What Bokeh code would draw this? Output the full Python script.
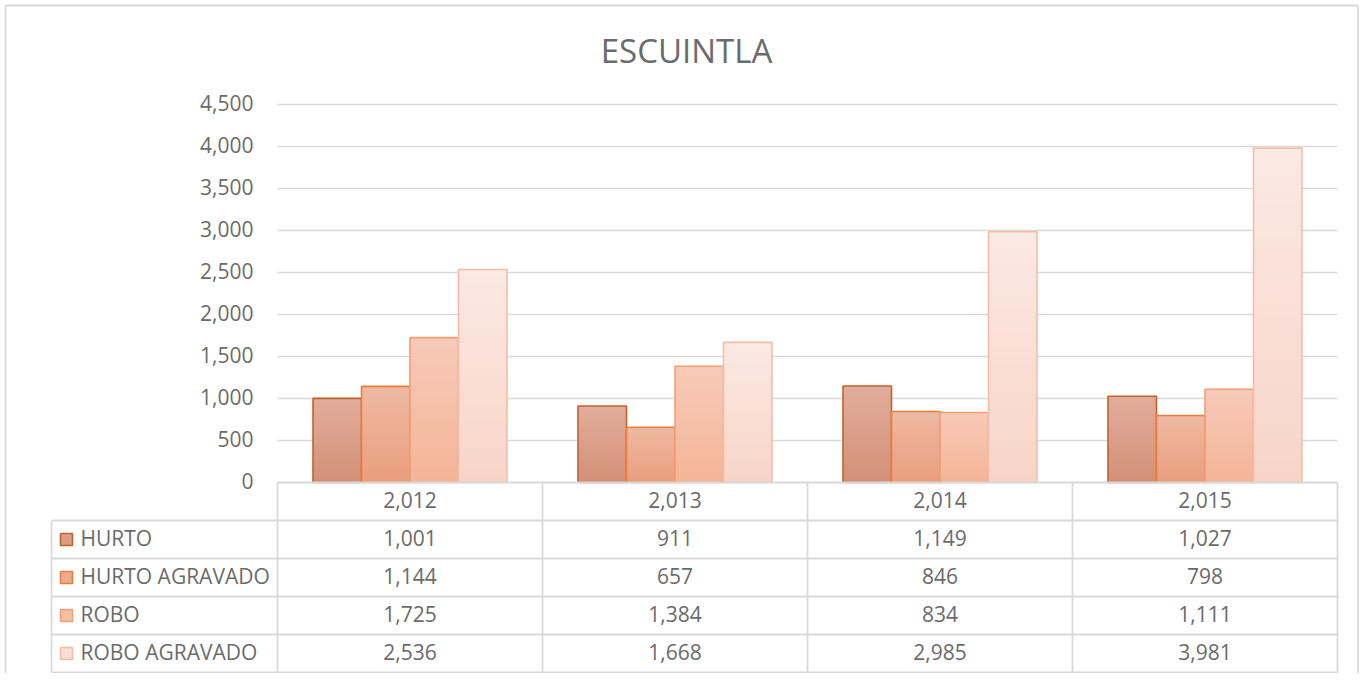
from bokeh.plotting import figure
from bokeh.models import Range1d, ColumnDataSource
from bokeh.core.properties import value
from bokeh.embed import file_html
from bokeh.resources import INLINE

# ---------------- data ----------------
TITLE = "ESCUINTLA"
YEARS = [2012, 2013, 2014, 2015]
SERIES = ["HURTO", "HURTO AGRAVADO", "ROBO", "ROBO AGRAVADO"]
HURTO = [1001, 911, 1149, 1027]
HURTO_AGRAVADO = [1144, 657, 846, 798]
ROBO = [1725, 1384, 834, 1111]
ROBO_AGRAVADO = [2536, 1668, 2985, 3981]
Y_TICKS = [0, 500, 1000, 1500, 2000, 2500, 3000, 3500, 4000, 4500]
VALUES = [HURTO, HURTO_AGRAVADO, ROBO, ROBO_AGRAVADO]

# ---------------- style ----------------
TOP_COL = ["#e1ae9c", "#eeb9a2", "#f7cab8", "#fbe9e3"]
BOT_COL = ["#d38f78", "#e99e7e", "#f4b497", "#f8d4c8"]
EDGE_COL = ["#c4622b", "#ec7e3a", "#f09f76", "#f3bea8"]
TEXT_COL = "#6b6b6b"
LINE_COL = "#d9d9d9"
FONT = "Open Sans"
FS = "21px"

# ---------------- layout (figure px) ----------------
OFF = 0
W, H = 1359, 673
PL, PR = 277, 1337          # plot area left/right
Y0, YTOP = 482, 104         # pixel rows of 0 and of YMAX
YMAX = Y_TICKS[-1]
TL = 51                     # table left
ROW = 38
TXT_DY = -1.5               # small vertical nudge for text centring
n = len(YEARS)

ux = n / (PR - PL)
uy = YMAX / (Y0 - YTOP)
xr = Range1d((OFF - PL) * ux, (OFF + W - PL) * ux)
yr = Range1d((Y0 - (OFF + H)) * uy, (Y0 - OFF) * uy)

p = figure(width=W, height=H, x_range=xr, y_range=yr,
           x_axis_location=None, y_axis_location=None,
           output_backend="svg", toolbar_location=None, min_border=0)
p.extra_x_ranges = {"px": Range1d(OFF, OFF + W)}
p.extra_y_ranges = {"px": Range1d(OFF + H, OFF)}
p.grid.visible = False
p.outline_line_color = None
p.background_fill_color = "white"
p.border_fill_color = "white"

# chart border
p.segment(x0=[5, 5, W - 1.5], x1=[W - 1.5, 5, W - 1.5], y0=[5, 5, 5], y1=[5, H, H],
          x_range_name="px", y_range_name="px", line_color=LINE_COL, line_width=1.8)

# title
p.text(x=[686], y=[49.5], text=[TITLE], x_range_name="px", y_range_name="px",
       text_font=value(FONT), text_font_size="33px", text_color=TEXT_COL,
       text_align="center", text_baseline="middle")

# gridlines
gt = Y_TICKS[1:]
p.segment(x0=[0] * len(gt), x1=[n] * len(gt), y0=gt, y1=gt, line_color=LINE_COL, line_width=1.3)

# y tick labels
p.text(x=[PL - 24] * len(Y_TICKS), y=Y_TICKS, text=[f"{t:,}" for t in Y_TICKS],
       x_range_name="px", text_font=value(FONT), text_font_size=FS, text_color=TEXT_COL,
       text_align="right", text_baseline="middle", y_offset=TXT_DY)


def mix(c1, c2, t):
    a = [int(c1[i:i + 2], 16) for i in (1, 3, 5)]
    b = [int(c2[i:i + 2], 16) for i in (1, 3, 5)]
    return "#%02x%02x%02x" % tuple(round(a[k] + (b[k] - a[k]) * t) for k in range(3))


# bars
BW = 48.5 * ux
NB = 30
for j, vals in enumerate(VALUES):
    lefts, rights, bots, tops, cols = [], [], [], [], []
    for i, v in enumerate(vals):
        c = i + 0.5 + (j - (len(SERIES) - 1) / 2) * BW
        for k in range(NB):
            lefts.append(c - BW / 2)
            rights.append(c + BW / 2)
            bots.append(v * k / NB)
            tops.append(v)
            cols.append(mix(BOT_COL[j], TOP_COL[j], (k + 0.5) / NB))
    src = ColumnDataSource(dict(left=lefts, right=rights, bottom=bots, top=tops, color=cols))
    p.quad(left="left", right="right", bottom="bottom", top="top", fill_color="color",
           line_color=None, source=src)
    cs = [i + 0.5 + (j - (len(SERIES) - 1) / 2) * BW for i in range(n)]
    p.quad(left=[c - BW / 2 for c in cs], right=[c + BW / 2 for c in cs],
           bottom=[0] * n, top=vals, fill_color=None, line_color=EDGE_COL[j], line_width=1.6)

# data table lines
colx = [PL + i * (PR - PL) / n for i in range(n + 1)]
nrows = len(SERIES)
ybot = Y0 + ROW * (nrows + 1)
p.segment(x0=colx, x1=colx, y0=[Y0] * len(colx), y1=[ybot] * len(colx),
          x_range_name="px", y_range_name="px", line_color=LINE_COL, line_width=1.8)
p.segment(x0=[TL], x1=[TL], y0=[Y0 + ROW], y1=[ybot],
          x_range_name="px", y_range_name="px", line_color=LINE_COL, line_width=1.8)
hy = [Y0 + ROW * r for r in range(nrows + 2)]
p.segment(x0=[PL] + [TL] * (nrows + 1), x1=[PR] * (nrows + 2), y0=hy, y1=hy,
          x_range_name="px", y_range_name="px", line_color=LINE_COL, line_width=1.8)

# header (years)
p.text(x=[i + 0.5 for i in range(n)], y=[Y0 + ROW / 2 + TXT_DY] * n, text=[f"{y:,}" for y in YEARS],
       y_range_name="px", text_font=value(FONT), text_font_size=FS, text_color=TEXT_COL,
       text_align="center", text_baseline="middle")

# rows
for j, (name, vals) in enumerate(zip(SERIES, VALUES)):
    yc = Y0 + ROW * (j + 1) + ROW / 2
    p.text(x=[i + 0.5 for i in range(n)], y=[yc + TXT_DY] * n, text=[f"{v:,}" for v in vals],
           y_range_name="px", text_font=value(FONT), text_font_size=FS, text_color=TEXT_COL,
           text_align="center", text_baseline="middle")
    p.quad(left=[60], right=[72], bottom=[yc - 6], top=[yc + 6],
           x_range_name="px", y_range_name="px",
           fill_color=mix(BOT_COL[j], TOP_COL[j], 0.5), line_color=EDGE_COL[j], line_width=1.6)
    p.text(x=[80], y=[yc + TXT_DY], text=[name], x_range_name="px", y_range_name="px",
           text_font=value(FONT), text_font_size=FS, text_color=TEXT_COL,
           text_align="left", text_baseline="middle")

open("out.html", "w").write(file_html(p, INLINE))
